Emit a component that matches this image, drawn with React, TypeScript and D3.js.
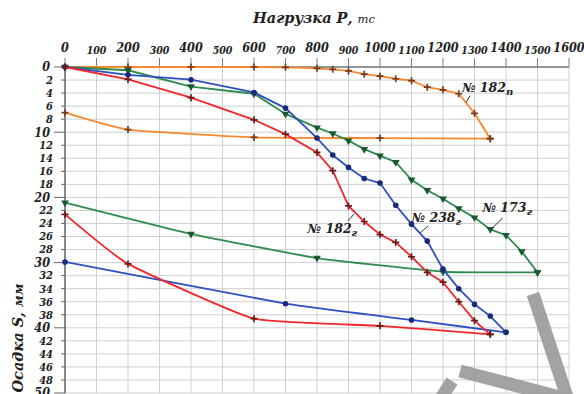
import React from "react";
import * as d3 from "d3";

// Нагрузка P, тс / Осадка S, мм
const xTicks = d3.range(0, 1601, 100);
const yTicks = d3.range(0, 51, 2);

// № 182п
const p182pLoad = [0, 200, 400, 600, 700, 800, 850, 900, 950, 1000, 1050, 1100, 1150, 1200, 1250, 1300, 1350];
const p182pS = [0, 0, 0, 0, 0.05, 0.2, 0.35, 0.6, 1.1, 1.4, 1.8, 2.1, 3.1, 3.5, 4.1, 7.1, 11.0];
const p182pUnload = [0, 200, 600, 1000, 1350];
const p182pUnloadS = [7.0, 9.6, 10.8, 10.9, 11.0];

// № 182г
const p182gLoad = [0, 200, 400, 600, 700, 800, 850, 900, 950, 1000, 1050, 1100, 1150, 1200, 1250, 1300, 1350];
const p182gS = [0, 1.9, 4.7, 8.1, 10.3, 13.1, 15.9, 21.3, 23.7, 25.7, 26.9, 29.1, 31.5, 33.0, 36.0, 38.9, 41.0];
const p182gUnload = [0, 200, 600, 1000, 1350];
const p182gUnloadS = [22.6, 30.2, 38.6, 39.7, 41.0];

// № 238г
const p238gLoad = [0, 200, 400, 600, 700, 800, 850, 900, 950, 1000, 1050, 1100, 1150, 1200, 1250, 1300, 1350, 1400];
const p238gS = [0, 1.2, 1.95, 3.9, 6.3, 10.9, 13.5, 15.4, 17.1, 17.8, 21.2, 24.1, 26.7, 31.0, 34.0, 36.4, 38.2, 40.7];
const p238gUnload = [0, 700, 1100, 1400];
const p238gUnloadS = [29.9, 36.3, 38.8, 40.7];

// № 173г
const p173gLoad = [0, 200, 400, 600, 700, 800, 850, 900, 950, 1000, 1050, 1100, 1150, 1200, 1250, 1300, 1350, 1400, 1450, 1500];
const p173gS = [0, 0.5, 3.0, 4.1, 7.2, 9.3, 10.2, 11.3, 12.6, 13.6, 14.6, 17.3, 18.9, 20.2, 21.7, 23.1, 24.9, 25.8, 28.3, 31.5];
const p173gUnload = [0, 400, 800, 1200, 1500];
const p173gUnloadS = [20.8, 25.6, 29.3, 31.4, 31.5];

const W = 584;
const H = 394;
const FONT = "'DejaVu Serif', 'Liberation Serif', serif";
const TICK_FONT = "'DejaVu Serif Condensed', 'DejaVu Serif', serif";

type Pt = [number, number];
const zip = (a: number[], b: number[]): Pt[] => a.map((v, i) => [v, b[i]]);

const series = [
  { load: zip(p182pLoad, p182pS), unload: zip(p182pUnload, p182pUnloadS), color: "#f7882f", mark: "#7a3a1a", shape: "plus" },
  { load: zip(p173gLoad, p173gS), unload: zip(p173gUnload, p173gUnloadS), color: "#2e8b4e", mark: "#1a5a2e", shape: "tri" },
  { load: zip(p238gLoad, p238gS), unload: zip(p238gUnload, p238gUnloadS), color: "#2f50c0", mark: "#1a2a7a", shape: "dot" },
  { load: zip(p182gLoad, p182gS), unload: zip(p182gUnload, p182gUnloadS), color: "#f0262a", mark: "#6a1a1a", shape: "plus" },
];

const x = d3.scaleLinear().domain([0, 1600]).range([65, 569]);
const y = d3.scaleLinear().domain([0, 50]).range([67, 393]);

const lineLin = d3.line<Pt>().x(d => x(d[0])).y(d => y(d[1]));
const lineSmooth = d3.line<Pt>().x(d => x(d[0])).y(d => y(d[1])).curve(d3.curveCardinal.tension(0.6));

const Marker = ({ cx, cy, shape, color }: any) => {
  if (shape === "plus")
    return <path d={`M${cx - 3.5},${cy}H${cx + 3.5}M${cx},${cy - 3.5}V${cy + 3.5}`} stroke={color} strokeWidth={1.7} />;
  if (shape === "tri")
    return <path d={d3.symbol(d3.symbolTriangle, 26)() || ""} transform={`translate(${cx},${cy}) rotate(180)`} fill={color} />;
  return <circle cx={cx} cy={cy} r={2.8} fill={color} />;
};

// label: text, subscript, position (load, settlement of text baseline), leader line ends in pixels
const labels = [
  { t: "№ 182", sub: "п", at: [1260, 3.8], lead: [[470, 95.7], [466, 102.7]] },
  { t: "№ 182", sub: "г", at: [770, 25.5], lead: [[354, 214], [348, 221]] },
  { t: "№ 238", sub: "г", at: [1100, 23.7], lead: [[428, 226], [420, 233]] },
  { t: "№ 173", sub: "г", at: [1325, 22.2], lead: [[503, 217.7], [492, 228.3]] },
];

export default function App() {
  return (
    <svg width={W} height={H} style={{ position: "absolute", left: 0, top: 0, background: "#fff" }} fontFamily={FONT}>
      {/* grid */}
      <g stroke="#cfcfcf" strokeWidth={1}>
        {xTicks.map(v => <line key={"gx" + v} x1={x(v)} x2={x(v)} y1={y(0)} y2={y(50)} />)}
        {yTicks.map(v => <line key={"gy" + v} x1={x(0)} x2={x(1600)} y1={y(v)} y2={y(v)} />)}
      </g>

      {/* top axis */}
      <g fontFamily={TICK_FONT}>
        <line x1={x(0)} x2={x(1600)} y1={y(0)} y2={y(0)} stroke="#7a7a7a" strokeWidth={1.3} />
        {xTicks.map(v => (
          <g key={"tx" + v}>
            <line x1={x(v)} x2={x(v)} y1={y(0) - 9} y2={y(0)} stroke="#7a7a7a" />
            <text x={x(v)} y={v % 200 === 0 ? 52 : 54} textAnchor="middle" fontWeight="bold" fontStyle="italic"
              fontSize={v % 200 === 0 ? 12.5 : 10.5} fill="#222">{v}</text>
          </g>
        ))}
      </g>

      {/* left axis */}
      <g fontFamily={TICK_FONT}>
        <line x1={x(0)} x2={x(0)} y1={y(0)} y2={y(50)} stroke="#555" strokeWidth={1.3} />
        {yTicks.map(v => (
          <g key={"ty" + v}>
            <line x1={x(0) - (v % 10 === 0 ? 11 : 4)} x2={x(0)} y1={y(v)} y2={y(v)} stroke="#666" />
            <text x={v % 10 === 0 ? 50 : 53} y={y(v)} dy="0.35em" textAnchor="end" fontWeight="bold" fontStyle="italic"
              fontSize={v % 10 === 0 ? 12.5 : 11} fill="#222">{v}</text>
          </g>
        ))}
      </g>

      {/* axis titles */}
      <text x={314} y={23} textAnchor="middle" fontStyle="italic" fill="#222">
        <tspan fontWeight="bold" fontSize={14.5}>Нагрузка Р, </tspan>
        <tspan fontSize={11.5}>тс</tspan>
      </text>
      <text transform="translate(23,338) rotate(-90)" textAnchor="middle" fontStyle="italic" fill="#222">
        <tspan fontWeight="bold" fontSize={14.5}>Осадка S, </tspan>
        <tspan fontWeight="bold" fontSize={12.5}>мм</tspan>
      </text>

      {/* curves */}
      {series.map((s, i) => (
        <g key={"s" + i}>
          <path d={lineSmooth(s.unload) || ""} fill="none" stroke={s.color} strokeWidth={1.8} />
          <path d={lineLin(s.load) || ""} fill="none" stroke={s.color} strokeWidth={1.8} />
          {s.unload.concat(s.load).map((d, j) => (
            <Marker key={j} cx={x(d[0])} cy={y(d[1])} shape={s.shape} color={s.mark} />
          ))}
        </g>
      ))}

      {/* labels */}
      {labels.map((l, i) => (
        <g key={"l" + i}>
          <line x1={l.lead[0][0]} y1={l.lead[0][1]} x2={l.lead[1][0]} y2={l.lead[1][1]} stroke="#333" strokeWidth={1} />
          <text x={x(l.at[0])} y={y(l.at[1])} fontWeight="bold" fontStyle="italic" fontSize={12.5} fill="#222">
            {l.t}<tspan fontSize={10} dy={3}>{l.sub}</tspan>
          </text>
        </g>
      ))}

      {/* watermark */}
      <g stroke="#9a9a9a" strokeWidth={13} opacity={0.9}>
        <line x1={533} y1={294} x2={568} y2={400} />
        <line x1={460} y1={371} x2={575} y2={401} />
        <line x1={452} y1={381} x2={440} y2={400} />
      </g>
    </svg>
  );
}
